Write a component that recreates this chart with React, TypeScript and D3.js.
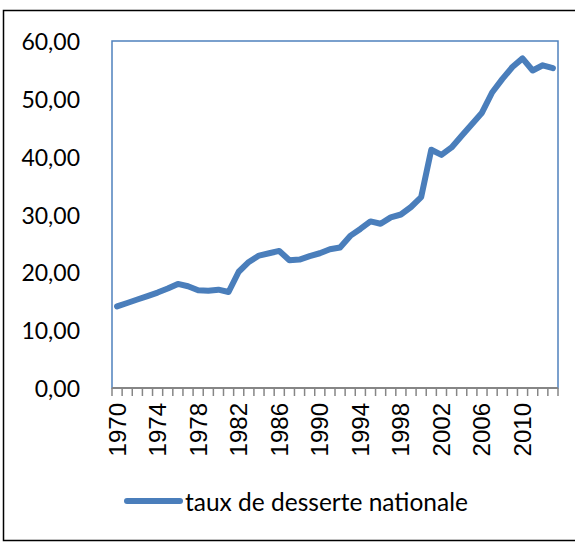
import React, { useEffect } from "react";
import * as d3 from "d3";

const years = [
  1970, 1971, 1972, 1973, 1974, 1975, 1976, 1977, 1978, 1979, 1980,
  1981, 1982, 1983, 1984, 1985, 1986, 1987, 1988, 1989, 1990, 1991,
  1992, 1993, 1994, 1995, 1996, 1997, 1998, 1999, 2000, 2001, 2002,
  2003, 2004, 2005, 2006, 2007, 2008, 2009, 2010, 2011, 2012, 2013,
];

const desserte = [
  14.1, 14.7, 15.3, 15.9, 16.5, 17.2, 18.0, 17.6, 16.9, 16.8, 17.0,
  16.6, 20.1, 21.8, 22.9, 23.3, 23.7, 22.1, 22.2, 22.8, 23.3, 24.0,
  24.3, 26.3, 27.5, 28.8, 28.4, 29.5, 30.0, 31.3, 33.0, 41.2, 40.3,
  41.6, 43.6, 45.6, 47.6, 51.1, 53.4, 55.5, 57.0, 54.9, 55.8, 55.3,
];

const yTicks = [0, 10, 20, 30, 40, 50, 60];
const xLabelYears = [1970, 1974, 1978, 1982, 1986, 1990, 1994, 1998, 2002, 2006, 2010];
const seriesName = "taux de desserte nationale";

const W = 575;
const H = 542;
const plot = { left: 112, right: 558, top: 41, bottom: 388 };
const blue = "#4A7EBB";

const App = () => {
  useEffect(() => {
    document.body.style.margin = "0";
  }, []);

  const x = d3
    .scaleBand<number>()
    .domain(years)
    .range([plot.left, plot.right])
    .paddingInner(0)
    .paddingOuter(0);

  const y = d3.scaleLinear().domain([0, 60]).range([plot.bottom, plot.top]);

  const cx = (yr: number) => (x(yr) as number) + x.bandwidth() / 2;

  const line = d3
    .line<number>()
    .x((_, i) => cx(years[i]))
    .y((v) => y(v));

  const fmt = (v: number) => d3.format(".2f")(v).replace(".", ",");

  // tick marks sit on the category boundaries
  const boundaries = years.map((yr) => x(yr) as number).concat([plot.right]);

  return (
    <svg width={W} height={H} style={{ display: "block", background: "#fff" }}>
      {/* outer chart frame */}
      <rect x={3.5} y={10.5} width={W + 10} height={530} fill="#fff" stroke="#000" strokeWidth={1.5} />

      {/* plot area border */}
      <rect
        x={plot.left}
        y={plot.top}
        width={plot.right - plot.left}
        height={plot.bottom - plot.top}
        fill="none"
        stroke="#4F81BD"
        strokeWidth={1.5}
      />

      {/* y labels */}
      <g fontFamily="Lato, 'Open Sans', sans-serif" fontSize={23} fill="#000">
        {yTicks.map((t) => (
          <text key={t} x={80} y={y(t)} textAnchor="end" dominantBaseline="central">
            {fmt(t)}
          </text>
        ))}
      </g>

      {/* x axis */}
      <line x1={plot.left} x2={plot.right} y1={plot.bottom} y2={plot.bottom} stroke="#868686" strokeWidth={2} />
      {boundaries.map((bx, i) => (
        <line key={i} x1={bx} x2={bx} y1={plot.bottom} y2={plot.bottom + 8} stroke="#868686" strokeWidth={1.5} />
      ))}
      <g fontFamily="'Liberation Sans', Arial, sans-serif" fontSize={24} fill="#000">
        {xLabelYears.map((yr) => (
          <text
            key={yr}
            transform={`translate(${cx(yr)},403) rotate(-90)`}
            textAnchor="end"
            dominantBaseline="central"
          >
            {yr}
          </text>
        ))}
      </g>

      {/* series */}
      <path
        d={line(desserte) || ""}
        fill="none"
        stroke={blue}
        strokeWidth={6}
        strokeLinejoin="round"
        strokeLinecap="round"
      />

      {/* legend */}
      <line x1={127} x2={180} y1={501} y2={501} stroke={blue} strokeWidth={6} strokeLinecap="round" />
      <text
        x={185}
        y={501}
        dominantBaseline="central"
        fontFamily="Lato, 'Open Sans', sans-serif"
        fontSize={24.5}
        fill="#000"
      >
        {seriesName}
      </text>
    </svg>
  );
};

export default App;
